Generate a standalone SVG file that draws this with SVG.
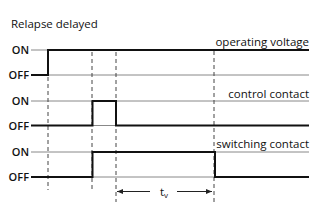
<svg xmlns="http://www.w3.org/2000/svg" width="320" height="219" viewBox="0 0 320 219">
<defs>
<style>
text{font-family:"Open Sans","Noto Sans","DejaVu Sans",sans-serif;fill:#111;}
.lvl{font-size:11px;text-anchor:end;font-weight:600;}
.lbl{font-size:11.5px;}
.thin{stroke:#888;stroke-width:1;fill:none;}
.sig{stroke:#111;stroke-width:2;fill:none;stroke-linejoin:miter;}
.dash{stroke:#444;stroke-width:1;stroke-dasharray:4,3;fill:none;}
.arr{stroke:#222;stroke-width:1;fill:none;}
</style>
<marker id="ah" viewBox="0 0 10 10" refX="10" refY="5" markerWidth="6" markerHeight="6" orient="auto-start-reverse">
<path d="M0,1 L10,5 L0,9 z" fill="#222"/>
</marker>
</defs>
<rect width="320" height="219" fill="#fff"/>
<text class="lbl" x="11" y="28" style="font-size:11.5px">Relapse delayed</text>
<g id="guides">
<line class="thin" x1="31" y1="50" x2="309" y2="50"/>
<line class="thin" x1="31" y1="75" x2="309" y2="75"/>
<line class="thin" x1="31" y1="101" x2="309" y2="101"/>
<line class="thin" x1="31" y1="125.5" x2="309" y2="125.5"/>
<line class="thin" x1="31" y1="152" x2="309" y2="152"/>
<line class="thin" x1="31" y1="177" x2="309" y2="177"/>
</g>
<g id="levels">
<text class="lvl" x="29" y="53.5">ON</text>
<text class="lvl" x="29" y="79">OFF</text>
<text class="lvl" x="29" y="105">ON</text>
<text class="lvl" x="29" y="129.5">OFF</text>
<text class="lvl" x="29" y="156">ON</text>
<text class="lvl" x="29" y="181">OFF</text>
</g>
<g id="connectors">
<line class="dash" x1="48" y1="77" x2="48" y2="190"/>
<line class="dash" x1="92" y1="52" x2="92" y2="190"/>
<line class="dash" x1="116" y1="52" x2="116" y2="202"/>
<line class="dash" x1="214" y1="51" x2="214" y2="202"/>
<line class="arr" x1="150" y1="191.5" x2="117" y2="191.5" marker-end="url(#ah)"/>
<line class="arr" x1="177" y1="191.5" x2="212" y2="191.5" marker-end="url(#ah)"/>
</g>
<g id="operating-voltage">
<polyline class="sig" points="31,75 48,75 48,50 309,50"/>
<text class="lbl" x="309" y="45.5" text-anchor="end">operating voltage</text>
</g>
<g id="control-contact">
<polyline class="sig" points="31,125.5 92.5,125.5 92.5,101 116,101 116,125.5 309,125.5"/>
<text class="lbl" x="309" y="97.5" text-anchor="end">control contact</text>
</g>
<g id="switching-contact">
<polyline class="sig" points="31,177 92.5,177 92.5,152 215,152 215,177 309,177"/>
<text class="lbl" x="309" y="148" text-anchor="end">switching contact</text>
</g>
<g id="tv">
<text class="lbl" x="160" y="196">t<tspan style="font-size:8px" dy="1.5">v</tspan></text>
</g>
</svg>
